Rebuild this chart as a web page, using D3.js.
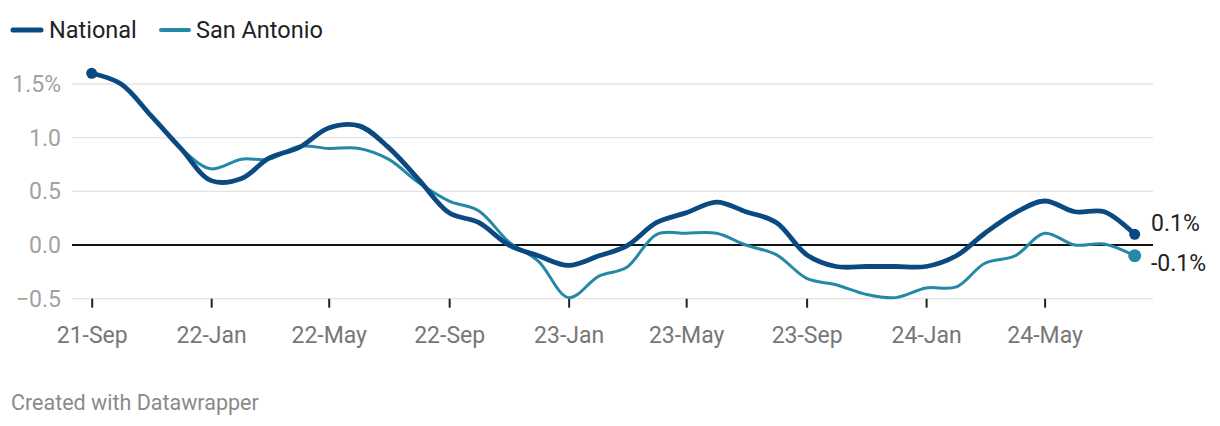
<!DOCTYPE html>
<html><head><meta charset="utf-8">
<script src="https://cdn.jsdelivr.net/npm/d3@7"></script>
<style>
body{margin:0;background:#fff;font-family:Roboto,"Noto Sans",sans-serif;}
svg{display:block}
</style></head>
<body>
<svg id="chart" width="1220" height="426"></svg>
<script>
const months = ["2021-09","2021-10","2021-11","2021-12","2022-01","2022-02","2022-03","2022-04","2022-05","2022-06","2022-07","2022-08",
"2022-09","2022-10","2022-11","2022-12","2023-01","2023-02","2023-03","2023-04","2023-05","2023-06","2023-07","2023-08",
"2023-09","2023-10","2023-11","2023-12","2024-01","2024-02","2024-03","2024-04","2024-05","2024-06","2024-07","2024-08"];
const national = [1.6,1.5,1.2,0.9,0.6,0.62,0.81,0.91,1.09,1.11,0.91,0.61,
0.3,0.21,0.0,-0.1,-0.19,-0.1,-0.01,0.21,0.3,0.4,0.31,0.21,
-0.09,-0.2,-0.2,-0.2,-0.2,-0.1,0.11,0.3,0.41,0.31,0.31,0.1];
const sanAntonio = [1.6,1.5,1.2,0.9,0.71,0.8,0.8,0.92,0.9,0.9,0.8,0.58,
0.41,0.32,0.03,-0.15,-0.49,-0.29,-0.21,0.1,0.11,0.11,0.0,-0.09,
-0.31,-0.37,-0.46,-0.49,-0.4,-0.39,-0.17,-0.1,0.11,0.0,0.01,-0.1];
const yTicks = [-0.5,0,0.5,1.0,1.5];
const yTickLabels = ["\u22120.5","0.0","0.5","1.0","1.5%"];
const xTickMonths = ["2021-09","2022-01","2022-05","2022-09","2023-01","2023-05","2023-09","2024-01","2024-05"];
const xTickLabels = ["21-Sep","22-Jan","22-May","22-Sep","23-Jan","23-May","23-Sep","24-Jan","24-May"];
const seriesNames = ["National","San Antonio"];
const colors = ["#0b4a80","#2588a7"];
const endLabels = ["0.1%","-0.1%"];

const parse = d3.timeParse("%Y-%m");
const dates = months.map(parse);
const svg = d3.select("#chart");

const x = d3.scaleTime().domain([dates[0], dates[dates.length-1]]).range([91.7, 1134.7]);
const y = d3.scaleLinear().domain([-0.5, 1.5]).range([298.7, 84]);

// grid lines
svg.append("g").selectAll("line").data(yTicks.filter(v=>v!==0)).join("line")
  .attr("x1",72).attr("x2",1153).attr("y1",d=>y(d)).attr("y2",d=>y(d))
  .attr("stroke","#e4e4e4").attr("stroke-width",1.3);

// y labels
svg.append("g").selectAll("text").data(yTicks).join("text")
  .attr("x",61).attr("y",d=>y(d)+8).attr("text-anchor","end")
  .attr("font-size",23).attr("fill","#a2a2a2")
  .text((d,i)=>yTickLabels[i]);

// x axis ticks
const xAxis = d3.axisBottom(x).tickValues(xTickMonths.map(parse)).tickSize(9).tickPadding(0)
  .tickFormat((d,i)=>xTickLabels[i]);
const gx = svg.append("g").attr("transform",`translate(0,${y(-0.5)})`).call(xAxis);
gx.select(".domain").remove();
gx.selectAll(".tick line").attr("stroke","#222").attr("stroke-width",2);
gx.selectAll(".tick text").attr("font-size",23).attr("fill","#777").attr("font-family","Roboto,sans-serif")
  .attr("y",44).attr("dy",null);

// zero line
svg.append("line").attr("x1",72).attr("x2",1153).attr("y1",y(0)).attr("y2",y(0))
  .attr("stroke","#111").attr("stroke-width",2);

const line = d3.line().x((d,i)=>x(dates[i])).y(d=>y(d)).curve(d3.curveCatmullRom.alpha(0.5));

const data = [national, sanAntonio];
const widths = [4.8, 3];
// draw San Antonio first, National on top
[1,0].forEach(k=>{
  svg.append("path").datum(data[k]).attr("d",line).attr("fill","none")
    .attr("stroke",colors[k]).attr("stroke-width",widths[k]).attr("stroke-linejoin","round").attr("stroke-linecap","round");
});
// end dots
[1,0].forEach(k=>{
  const n = data[k].length-1;
  svg.append("circle").attr("cx",x(dates[n])).attr("cy",y(data[k][n])).attr("r",k===0?5.5:6.5).attr("fill",colors[k]);
});
// start dot national
svg.append("circle").attr("cx",x(dates[0])).attr("cy",y(national[0])).attr("r",5.5).attr("fill",colors[0]);

// end labels
svg.append("text").attr("x",1151).attr("y",y(national[35])-3).attr("font-size",23).attr("fill","#222").text(endLabels[0]);
svg.append("text").attr("x",1151).attr("y",y(sanAntonio[35])+15).attr("font-size",23).attr("fill","#222").text(endLabels[1]);

// legend
const lg = svg.append("g");
const legX = [12,160], legTX=[49,196];
seriesNames.forEach((n,i)=>{
  lg.append("line").attr("x1",legX[i]+1).attr("x2",legX[i]+29).attr("y1",30).attr("y2",30)
    .attr("stroke",colors[i]).attr("stroke-width",i===0?5:4).attr("stroke-linecap","round");
  lg.append("text").attr("x",legTX[i]).attr("y",38).attr("font-size",23.5).attr("fill","#222").text(n);
});

// footer
svg.append("text").attr("x",11).attr("y",410).attr("font-size",21.5).attr("fill","#8a8a8a").text("Created with Datawrapper");
</script>
</body></html>
